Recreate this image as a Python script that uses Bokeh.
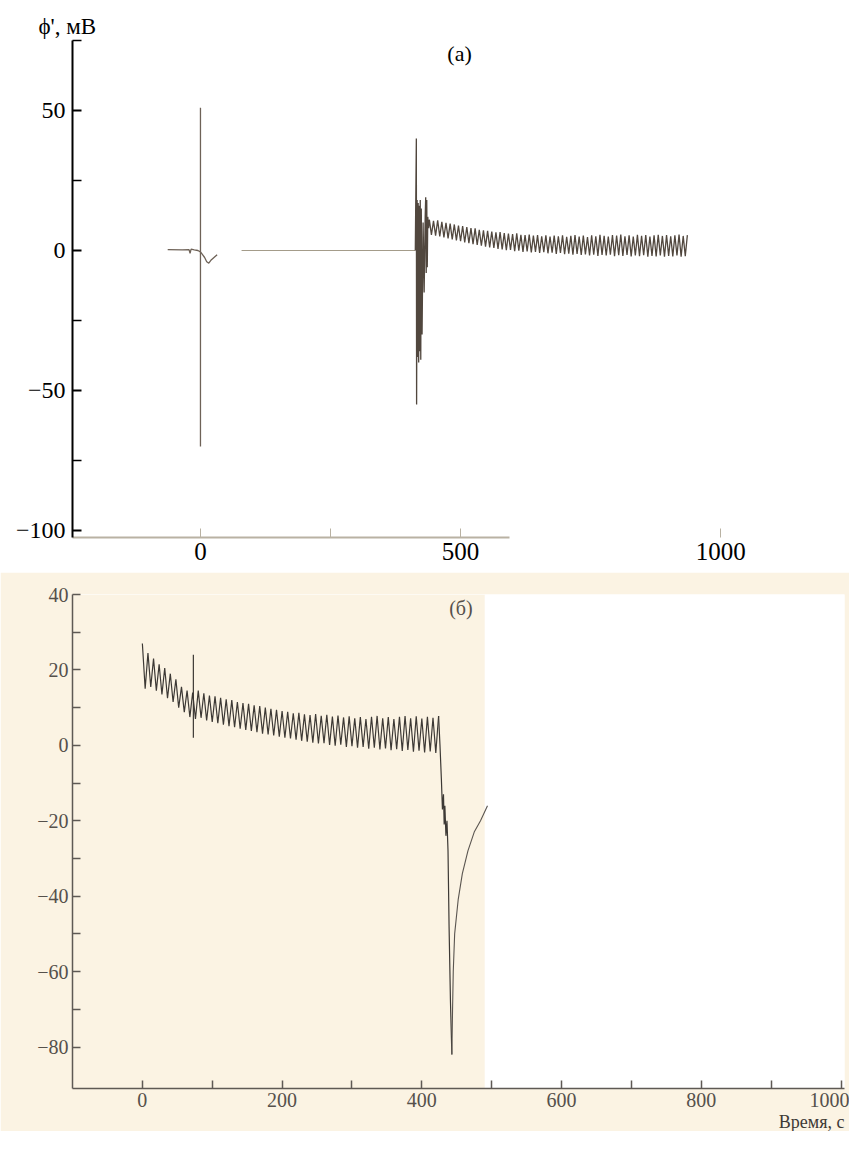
from bokeh.plotting import figure
from bokeh.models import Range1d, FixedTicker, Label, BoxAnnotation, Title
from bokeh.layouts import column
from bokeh.embed import file_html
from bokeh.resources import INLINE

# ---------------- Panel (a) data ----------------
a_pre_t = [-63, -35, -22, -20, -18, -12, -5, 0, 4, 8, 12, 16, 20, 26, 32]
a_pre_v = [0.3, 0.2, 0.3, -1.0, 0.5, 0.2, 0.0, -0.5, -1.5, -2.5, -4.0, -4.5, -3.5, -2.5, -1.5]
a_spike_t = [0, 0]
a_spike_v = [51, -70]
a_flat_t = [79, 413]
a_flat_v = [0, 0]
a_burst_t = [413, 415, 415.5, 416.5, 417.5, 418.5, 419.5, 420.5, 421.5, 422.5, 423.5,
             424.5, 426, 428, 430, 432, 433, 434, 435, 436, 437, 438.5]
a_burst_v = [0, 40, -55, 18, -38, 17, -40, 16, -36, 18, -39, 15, -30, 10, -15, 12, 19,
             -8, 18, -6, 12, 8]
a_peak_t = [440, 448, 456, 464, 472, 480, 488, 496, 504, 512, 520, 528, 536, 544, 552, 560,
            568, 576, 584, 592, 600, 608, 616, 624, 632, 640, 648, 656, 664, 672, 680, 688,
            696, 704, 712, 720, 728, 736, 744, 752, 760, 768, 776, 784, 792, 800, 808, 816,
            824, 832, 840, 848, 856, 864, 872, 880, 888, 896, 904, 912, 920, 928, 936]
a_peak_v = [11.0, 10.6, 10.8, 10.2, 9.9, 9.6, 9.3, 8.9, 8.7, 8.4, 8.0, 7.9, 7.4, 7.2, 7.0, 6.8,
            6.5, 6.6, 6.2, 6.0, 5.9, 6.1, 5.6, 5.5, 5.7, 5.3, 5.5, 5.1, 5.4, 5.0, 5.3, 5.1,
            5.4, 4.9, 5.2, 5.5, 5.0, 5.3, 4.8, 5.4, 5.1, 5.6, 5.2, 5.0, 5.5, 5.3, 5.7, 5.1,
            5.4, 5.0, 5.6, 5.2, 5.5, 5.0, 5.4, 5.6, 5.2, 5.5, 5.1, 5.4, 5.7, 5.2, 5.5]
a_trough_t = [444, 452, 460, 468, 476, 484, 492, 500, 508, 516, 524, 532, 540, 548, 556, 564,
              572, 580, 588, 596, 604, 612, 620, 628, 636, 644, 652, 660, 668, 676, 684, 692,
              700, 708, 716, 724, 732, 740, 748, 756, 764, 772, 780, 788, 796, 804, 812, 820,
              828, 836, 844, 852, 860, 868, 876, 884, 892, 900, 908, 916, 924, 932]
a_trough_v = [5.6, 5.3, 5.0, 4.7, 4.3, 4.0, 3.6, 3.3, 2.9, 2.6, 2.3, 2.0, 1.7, 1.4, 1.1, 0.9,
              0.6, 0.4, 0.1, 0.2, -0.2, -0.1, -0.5, -0.3, -0.7, -0.5, -0.9, -0.6, -1.0, -0.8,
              -1.2, -0.9, -1.3, -1.1, -1.5, -1.2, -1.6, -1.4, -1.8, -1.5, -1.9, -1.6, -1.8,
              -1.5, -2.0, -1.7, -1.9, -1.6, -2.1, -1.8, -2.0, -1.7, -2.2, -1.9, -2.1, -1.8,
              -2.2, -1.9, -2.1, -1.8, -2.2, -2.0]
a_xticks = [0, 500, 1000]
a_xminor = [250]
a_yticks = [50, 0, -50, -100]
a_yminor = [75, 25, -25, -75]

# ---------------- Panel (б) data ----------------
b_peak_t = [0, 8, 16, 24, 32, 40, 48, 56, 64, 72, 80, 88, 96, 104, 112, 120, 128, 136, 144,
            152, 160, 168, 176, 184, 192, 200, 208, 216, 224, 232, 240, 248, 256, 264, 272,
            280, 288, 296, 304, 312, 320, 328, 336, 344, 352, 360, 368, 376, 384, 392, 400,
            408, 416, 424]
b_peak_v = [27, 24.5, 23, 21.5, 20.5, 19, 17.5, 15.5, 14.5, 14, 14.5, 13.8, 13.2, 13, 12.6,
            12.2, 12, 11.5, 11.2, 11, 10.6, 10.4, 10, 9.7, 9.4, 9.1, 8.9, 8.5, 8.6, 8.2, 8.0,
            8.3, 7.8, 8.1, 7.6, 7.9, 7.4, 7.7, 7.2, 7.5, 7.0, 7.6, 7.8, 7.2, 7.5, 7.0, 7.6,
            7.8, 7.2, 7.7, 7.1, 7.6, 7.3, 7.8]
b_trough_t = [4, 12, 20, 28, 36, 44, 52, 60, 68, 76, 84, 92, 100, 108, 116, 124, 132, 140,
              148, 156, 164, 172, 180, 188, 196, 204, 212, 220, 228, 236, 244, 252, 260, 268,
              276, 284, 292, 300, 308, 316, 324, 332, 340, 348, 356, 364, 372, 380, 388, 396,
              404, 412, 420]
b_trough_v = [15, 15.5, 14.5, 13.5, 12.5, 11.5, 10, 8.8, 7.5, 7, 7.3, 6.6, 6.2, 5.9, 5.5, 5.1,
              4.8, 4.4, 4.1, 3.8, 3.5, 3.1, 2.9, 2.6, 2.3, 2.0, 1.8, 1.5, 1.2, 1.0, 0.7, 0.5,
              0.6, 0.1, -0.1, 0.2, -0.4, -0.2, -0.6, -0.4, -0.9, -0.6, -1.1, -0.8, -1.3, -1.0,
              -1.5, -1.2, -1.7, -1.4, -1.9, -1.6, -2.0]
b_spike_t = [73, 73]
b_spike_v = [24, 2]
b_drop_t = [424, 426, 428, 429.5, 431, 432, 433, 434.5, 436, 437.5, 439, 441, 443]
b_drop_v = [7.8, 0, -9, -17, -13, -21, -16, -24, -20, -28, -48, -68, -82]
b_rec_t = [443, 444, 445, 447, 452, 458, 466, 475, 484, 494]
b_rec_v = [-82, -70, -60, -50, -41, -34, -28, -23, -20, -16]
b_xticks = [0, 200, 400, 600, 800, 1000]
b_xminor = [100, 300, 500, 700, 900]
b_yticks = [40, 20, 0, -20, -40, -60, -80]
b_yminor = [30, 10, -10, -30, -50, -70]

SERIF = "Liberation Serif"
BEIGE = "#fbf3e3"


def merged(t1, v1, t2, v2):
    pts = sorted(zip(list(t1) + list(t2), list(v1) + list(v2)))
    return [p[0] for p in pts], [p[1] for p in pts]


# ---------------- Figure (a) ----------------
p1 = figure(output_backend="svg", toolbar_location=None,
            frame_width=773, frame_height=497,
            min_border_left=72, min_border_right=4, min_border_top=40, min_border_bottom=35,
            x_range=Range1d(-246, 1240), y_range=Range1d(-102.5, 75))
p1.grid.visible = False
p1.outline_line_color = None
p1.background_fill_color = "white"
p1.border_fill_color = "white"

p1.title.text = "ϕ', мВ"
p1.title.align = "left"
p1.title.offset = -34
p1.title.standoff = 4
p1.title.text_font = SERIF
p1.title.text_font_size = "23px"
p1.title.text_font_style = "normal"
p1.title.text_color = "black"

p1.line(a_pre_t, a_pre_v, line_color="#6e6257", line_width=1.3)
p1.line(a_spike_t, a_spike_v, line_color="#6e6257", line_width=1.3)
p1.line(a_flat_t, a_flat_v, line_color="#a49c8a", line_width=1.2)
ot, ov = merged(a_peak_t, a_peak_v, a_trough_t, a_trough_v)
p1.line(a_burst_t + ot, a_burst_v + ov, line_color="#51473e", line_width=1.3)

xa = p1.xaxis[0]
xa.ticker = FixedTicker(ticks=a_xticks, minor_ticks=a_xminor)
xa.bounds = (-246, 594)
xa.axis_line_color = "#b9b2a3"
xa.axis_line_width = 2
xa.major_tick_line_color = "#b9b2a3"
xa.minor_tick_line_color = "#b9b2a3"
xa.major_tick_in = 9
xa.major_tick_out = 0
xa.minor_tick_in = 9
xa.minor_tick_out = 0
xa.major_label_standoff = 5
xa.major_label_text_font = SERIF
xa.major_label_text_font_size = "25px"
xa.major_label_text_color = "black"

ya = p1.yaxis[0]
ya.ticker = FixedTicker(ticks=a_yticks, minor_ticks=a_yminor)
ya.axis_line_color = "black"
ya.axis_line_width = 2
ya.major_tick_line_color = "black"
ya.minor_tick_line_color = "black"
ya.major_tick_line_width = 2
ya.minor_tick_line_width = 1.5
ya.major_tick_in = 9
ya.major_tick_out = 0
ya.minor_tick_in = 9
ya.minor_tick_out = 0
ya.major_label_standoff = 7
ya.major_label_text_font = SERIF
ya.major_label_text_font_size = "24px"
ya.major_label_text_color = "black"

p1.add_layout(Label(x=498, y=70.4, text="(a)", text_font=SERIF, text_font_size="22px",
                    text_align="center", text_baseline="middle", text_color="black"))
p1.add_layout(Label(x=1000, y=-108.8, text="1000", text_font=SERIF, text_font_size="25px",
                    text_align="center", text_baseline="middle", text_color="black"))

# ---------------- Figure (б) ----------------
p2 = figure(output_backend="svg", toolbar_location=None,
            frame_width=772, frame_height=494,
            min_border_left=69, min_border_right=8, min_border_top=22, min_border_bottom=40,
            x_range=Range1d(-100, 1005), y_range=Range1d(-91, 40))
p2.grid.visible = False
p2.outline_line_color = None
p2.background_fill_color = "white"
p2.border_fill_color = BEIGE
p2.add_layout(BoxAnnotation(left=-100, right=490, fill_color=BEIGE, fill_alpha=1.0,
                            line_color=None, level="underlay"))

bt, bv = merged(b_peak_t, b_peak_v, b_trough_t, b_trough_v)
p2.line(bt, bv, line_color="#3d3935", line_width=1.2)
p2.line(b_spike_t, b_spike_v, line_color="#3d3935", line_width=1.2)
p2.line(b_drop_t, b_drop_v, line_color="#3d3935", line_width=1.2)
p2.line(b_rec_t, b_rec_v, line_color="#5a5550", line_width=1.1)

for ax, tk, mn in ((p2.xaxis[0], b_xticks, b_xminor), (p2.yaxis[0], b_yticks, b_yminor)):
    ax.ticker = FixedTicker(ticks=tk, minor_ticks=mn)
    ax.axis_line_color = "#5e5954"
    ax.axis_line_width = 1.5
    ax.major_tick_line_color = "#5e5954"
    ax.minor_tick_line_color = "#5e5954"
    ax.major_tick_line_width = 1.5
    ax.minor_tick_line_width = 1.5
    ax.major_tick_in = 8
    ax.major_tick_out = 0
    ax.minor_tick_in = 8
    ax.minor_tick_out = 0
    ax.major_label_standoff = 4
    ax.major_label_text_font = SERIF
    ax.major_label_text_font_size = "20px"
    ax.major_label_text_color = "#55504b"

p2.add_layout(Label(x=456, y=36.5, text="(б)", text_font=SERIF, text_font_size="20px",
                    text_align="center", text_baseline="middle", text_color="#55504b"))
p2.add_layout(Title(text="Время, с", align="right", offset=0, standoff=0,
                    text_font=SERIF, text_font_size="18px", text_font_style="normal",
                    text_color="#3d3935"), "below")

layout = column(p1, p2, spacing=0)
open("out.html", "w").write(file_html(layout, INLINE))
